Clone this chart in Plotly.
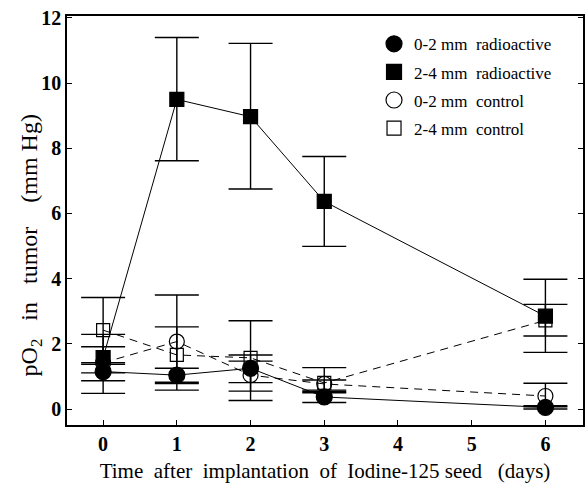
import plotly.graph_objects as go

days = [0, 1, 2, 3, 6]

rad02 = [1.15, 1.04, 1.25, 0.37, 0.05]
rad02_plus = [0.22, 0.21, 1.46, 0.17, 0.05]
rad02_minus = [0.28, 0.22, 0.99, 0.17, 0.05]

rad24 = [1.58, 9.50, 8.97, 6.37, 2.85]
rad24_plus = [0.71, 1.90, 2.25, 1.38, 1.13]
rad24_minus = [0.47, 1.88, 2.22, 1.38, 1.11]

ctl02 = [1.42, 2.07, 1.04, 0.77, 0.40]
ctl02_plus = [0.49, 1.43, 0.43, 0.50, 0.39]
ctl02_minus = [0.94, 1.49, 0.49, 0.27, 0.33]

ctl24 = [2.42, 1.66, 1.57, 0.80, 2.72]
ctl24_plus = [1.00, 0.86, 0.09, 0.09, 0.49]
ctl24_minus = [1.00, 0.88, 0.76, 0.22, 0.48]

names = ["0-2 mm&nbsp; radioactive", "2-4 mm&nbsp; radioactive", "0-2 mm&nbsp; control", "2-4 mm&nbsp; control"]

x_title = "Time&nbsp; after&nbsp; implantation&nbsp; of&nbsp; Iodine-125 seed&nbsp;&nbsp; (days)"
y_title = "pO<sub>2</sub>&nbsp;&nbsp; in&nbsp;&nbsp; tumor&nbsp;&nbsp;&nbsp; (mm Hg)"

FONT = "Liberation Serif, Times New Roman, serif"

def err(plus, minus):
    return dict(type="data", symmetric=False, array=plus, arrayminus=minus,
                color="black", thickness=1.4, width=22)

fig = go.Figure()

series = [
    (ctl02, ctl02_plus, ctl02_minus, names[2], "circle-open", 15, "dash", 3),
    (ctl24, ctl24_plus, ctl24_minus, names[3], "square-open", 13, "dash", 4),
    (rad02, rad02_plus, rad02_minus, names[0], "circle", 16, "solid", 1),
    (rad24, rad24_plus, rad24_minus, names[1], "square", 14, "solid", 2),
]

for y, p, m, name, sym, size, dash, rank in series:
    fig.add_trace(go.Scatter(
        x=days, y=y, name=name, mode="lines+markers",
        line=dict(color="black", width=1, dash="8px,6px" if dash == "dash" else "solid"),
        marker=dict(symbol=sym, size=size, color="black",
                    line=dict(color="black", width=1.2)),
        error_y=err(p, m),
        showlegend=False,
    ))
    # legend-only entry (markers without line, as in the reference)
    fig.add_trace(go.Scatter(
        x=[None], y=[None], name=name, mode="markers",
        marker=dict(symbol=sym, size=size + 1, color="black",
                    line=dict(color="black", width=1.2)),
        legendrank=rank, legendgroup=name, showlegend=True,
    ))

fig.update_layout(
    width=585, height=488,
    margin=dict(l=67, r=0, t=16, b=63),
    paper_bgcolor="white", plot_bgcolor="white",
    font=dict(family=FONT, color="black", size=16),
    showlegend=True,
    legend=dict(x=0.595, xanchor="left", y=0.975, yanchor="top",
                bgcolor="rgba(0,0,0,0)", borderwidth=0,
                font=dict(family=FONT, size=17, color="black"),
                tracegroupgap=3, itemsizing="trace"),
    xaxis=dict(
        range=[-0.49, 6.51], tickvals=[0, 1, 2, 3, 4, 5, 6],
        showgrid=False, zeroline=False,
        showline=True, linecolor="black", linewidth=1.5, mirror=True,
        ticks="inside", ticklen=5, tickwidth=1, tickcolor="black",
        tickfont=dict(family=FONT, size=20, weight="bold"),
        title=dict(text=x_title, font=dict(family=FONT, size=21), standoff=10),
    ),
    yaxis=dict(
        range=[-0.49, 12.06], tickvals=[0, 2, 4, 6, 8, 10, 12],
        showgrid=False, zeroline=False,
        showline=True, linecolor="black", linewidth=1.5, mirror="ticks",
        ticks="inside", ticklen=5, tickwidth=1, tickcolor="black",
        tickfont=dict(family=FONT, size=20, weight="bold"),
    ),
    annotations=[dict(
        text=y_title, textangle=-90, showarrow=False,
        xref="paper", yref="paper", x=-0.069, y=0.44,
        xanchor="center", yanchor="middle",
        font=dict(family=FONT, size=24, color="black"),
    )],
)

fig.write_html("out.html")
